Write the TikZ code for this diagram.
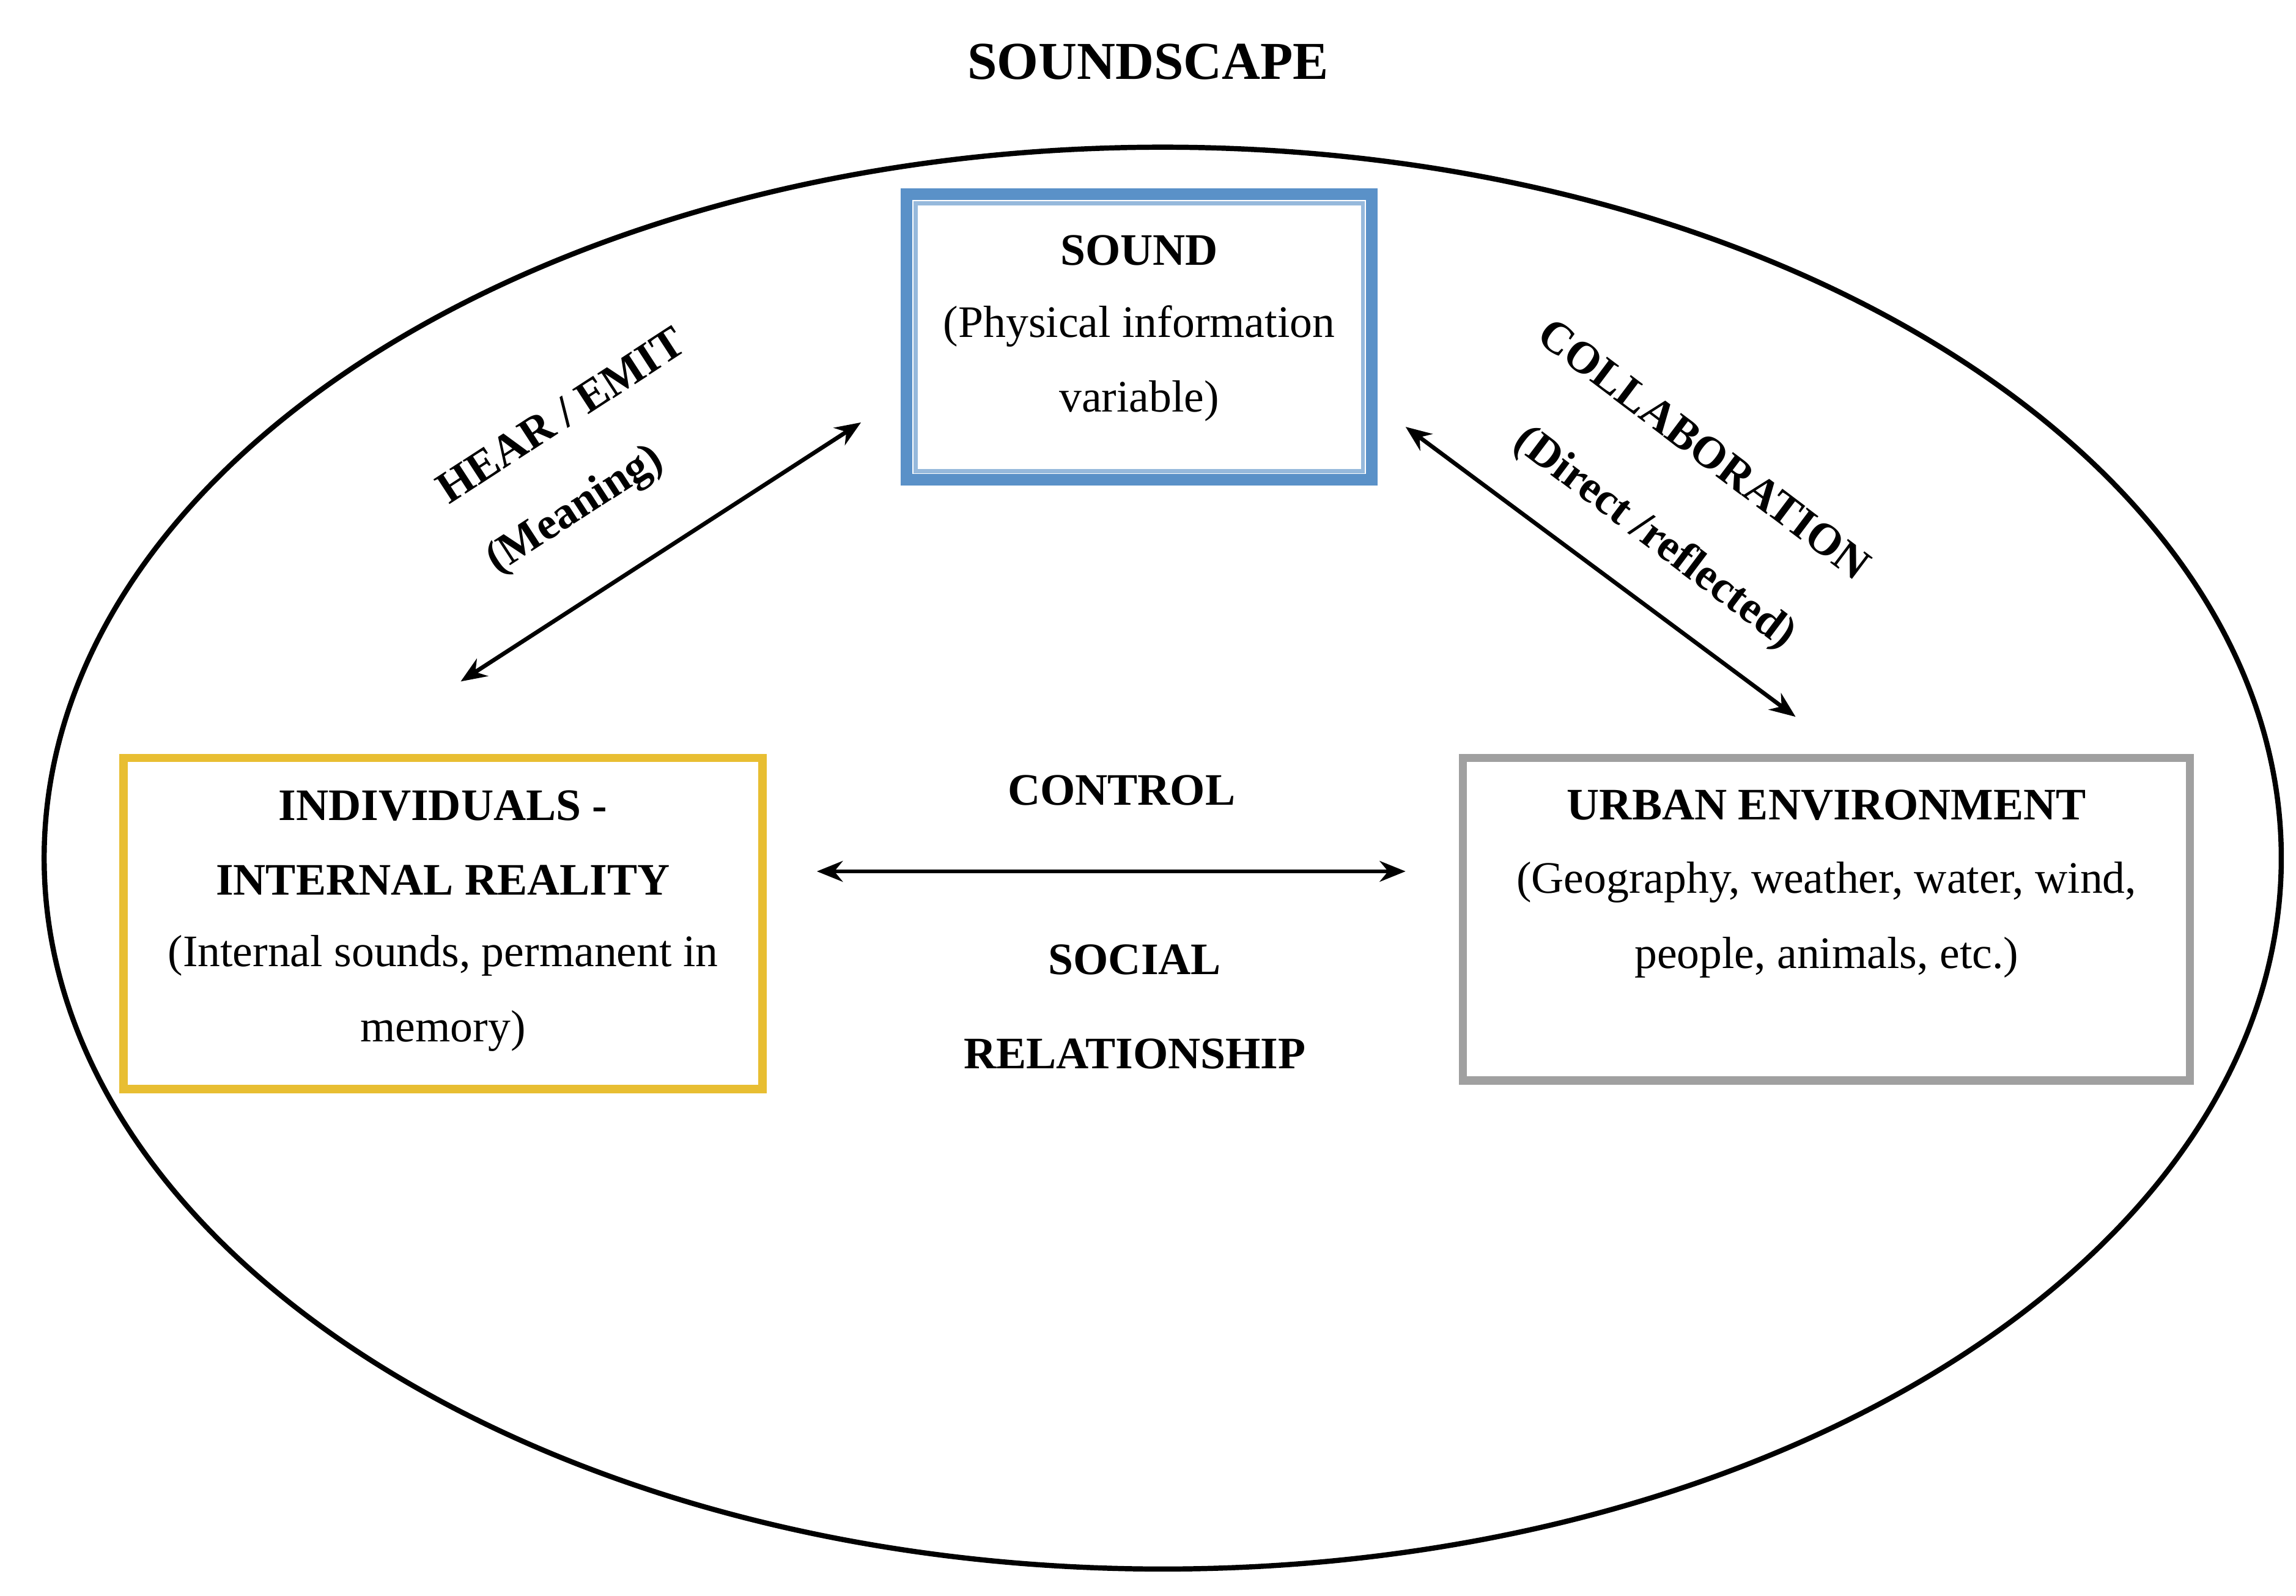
\documentclass[tikz,border=0pt]{standalone}
\usepackage{fontspec}
\setmainfont{Liberation Serif}
\usetikzlibrary{arrows.meta}
\begin{document}
\begin{tikzpicture}[x=0.01cm,y=-0.01cm,
  txt/.style={font=\fontsize{8.7}{14.5}\selectfont, align=center},
  btxt/.style={font=\fontsize{8.7}{14.5}\selectfont\bfseries, align=center},
  arr/.style={{Stealth[length=5pt,width=4pt]}-{Stealth[length=5pt,width=4pt]}, line width=0.8pt}]
\useasboundingbox (0,0) rectangle (1560,1084.3);
\node[font=\fontsize{10.3}{12}\selectfont\bfseries] (title) at (780,42) {SOUNDSCAPE};
\draw[line width=1pt] (790,583) ellipse [x radius=760, y radius=483];
% boxes
\draw[draw={rgb,255:red,90;green,145;blue,200}, line width=2.2pt] (616,132) rectangle (932,326);
\draw[draw={rgb,255:red,150;green,185;blue,220}, line width=0.8pt] (622,138) rectangle (926,320);
\node[inner sep=0, minimum width=320*0.01cm, minimum height=198*0.01cm] (sound) at (774,229) {};
\node[btxt] at (774,170) {SOUND};
\node[txt] at (774,247) {(Physical information\\variable)};
\node[draw={rgb,255:red,232;green,190;blue,50}, line width=1.6pt, minimum width=434*0.01cm, minimum height=225*0.01cm] (ind) at (301,627.5) {};
\node[btxt] at (301,572.5) {INDIVIDUALS -\\INTERNAL REALITY};
\node[txt] at (301,675) {(Internal sounds, permanent in\\memory)};
\node[draw={rgb,255:red,160;green,160;blue,160}, line width=1.6pt, minimum width=494*0.01cm, minimum height=219*0.01cm] (urb) at (1241,624.5) {};
\node[btxt] at (1241,547) {URBAN ENVIRONMENT};
\node[txt] at (1241,625) {(Geography, weather, water, wind,\\people, animals, etc.)};
% arrows
\coordinate (a1) at (313,463); \coordinate (a2) at (585,287);
\coordinate (b1) at (955,290); \coordinate (b2) at (1220,487);
\coordinate (c1) at (555,592); \coordinate (c2) at (955,592);
\draw[arr] (a1) -- (a2);
\draw[arr] (b1) -- (b2);
\draw[arr] (c1) -- (c2);
% labels
\node[btxt, rotate=33] (l1) at (381,282) {HEAR / EMIT};
\node[btxt, rotate=33] (l2) at (391,347) {(Meaning)};
\node[btxt, rotate=-37] (l3) at (1158,305) {COLLABORATION};
\node[btxt, rotate=-37] (l4) at (1124,366) {(Direct /reflected)};
\node[btxt] (l5) at (762,537) {CONTROL};
\node[btxt] (l6) at (771,652) {SOCIAL};
\node[btxt] (l7) at (771,716) {RELATIONSHIP};
\end{tikzpicture}
\end{document}
